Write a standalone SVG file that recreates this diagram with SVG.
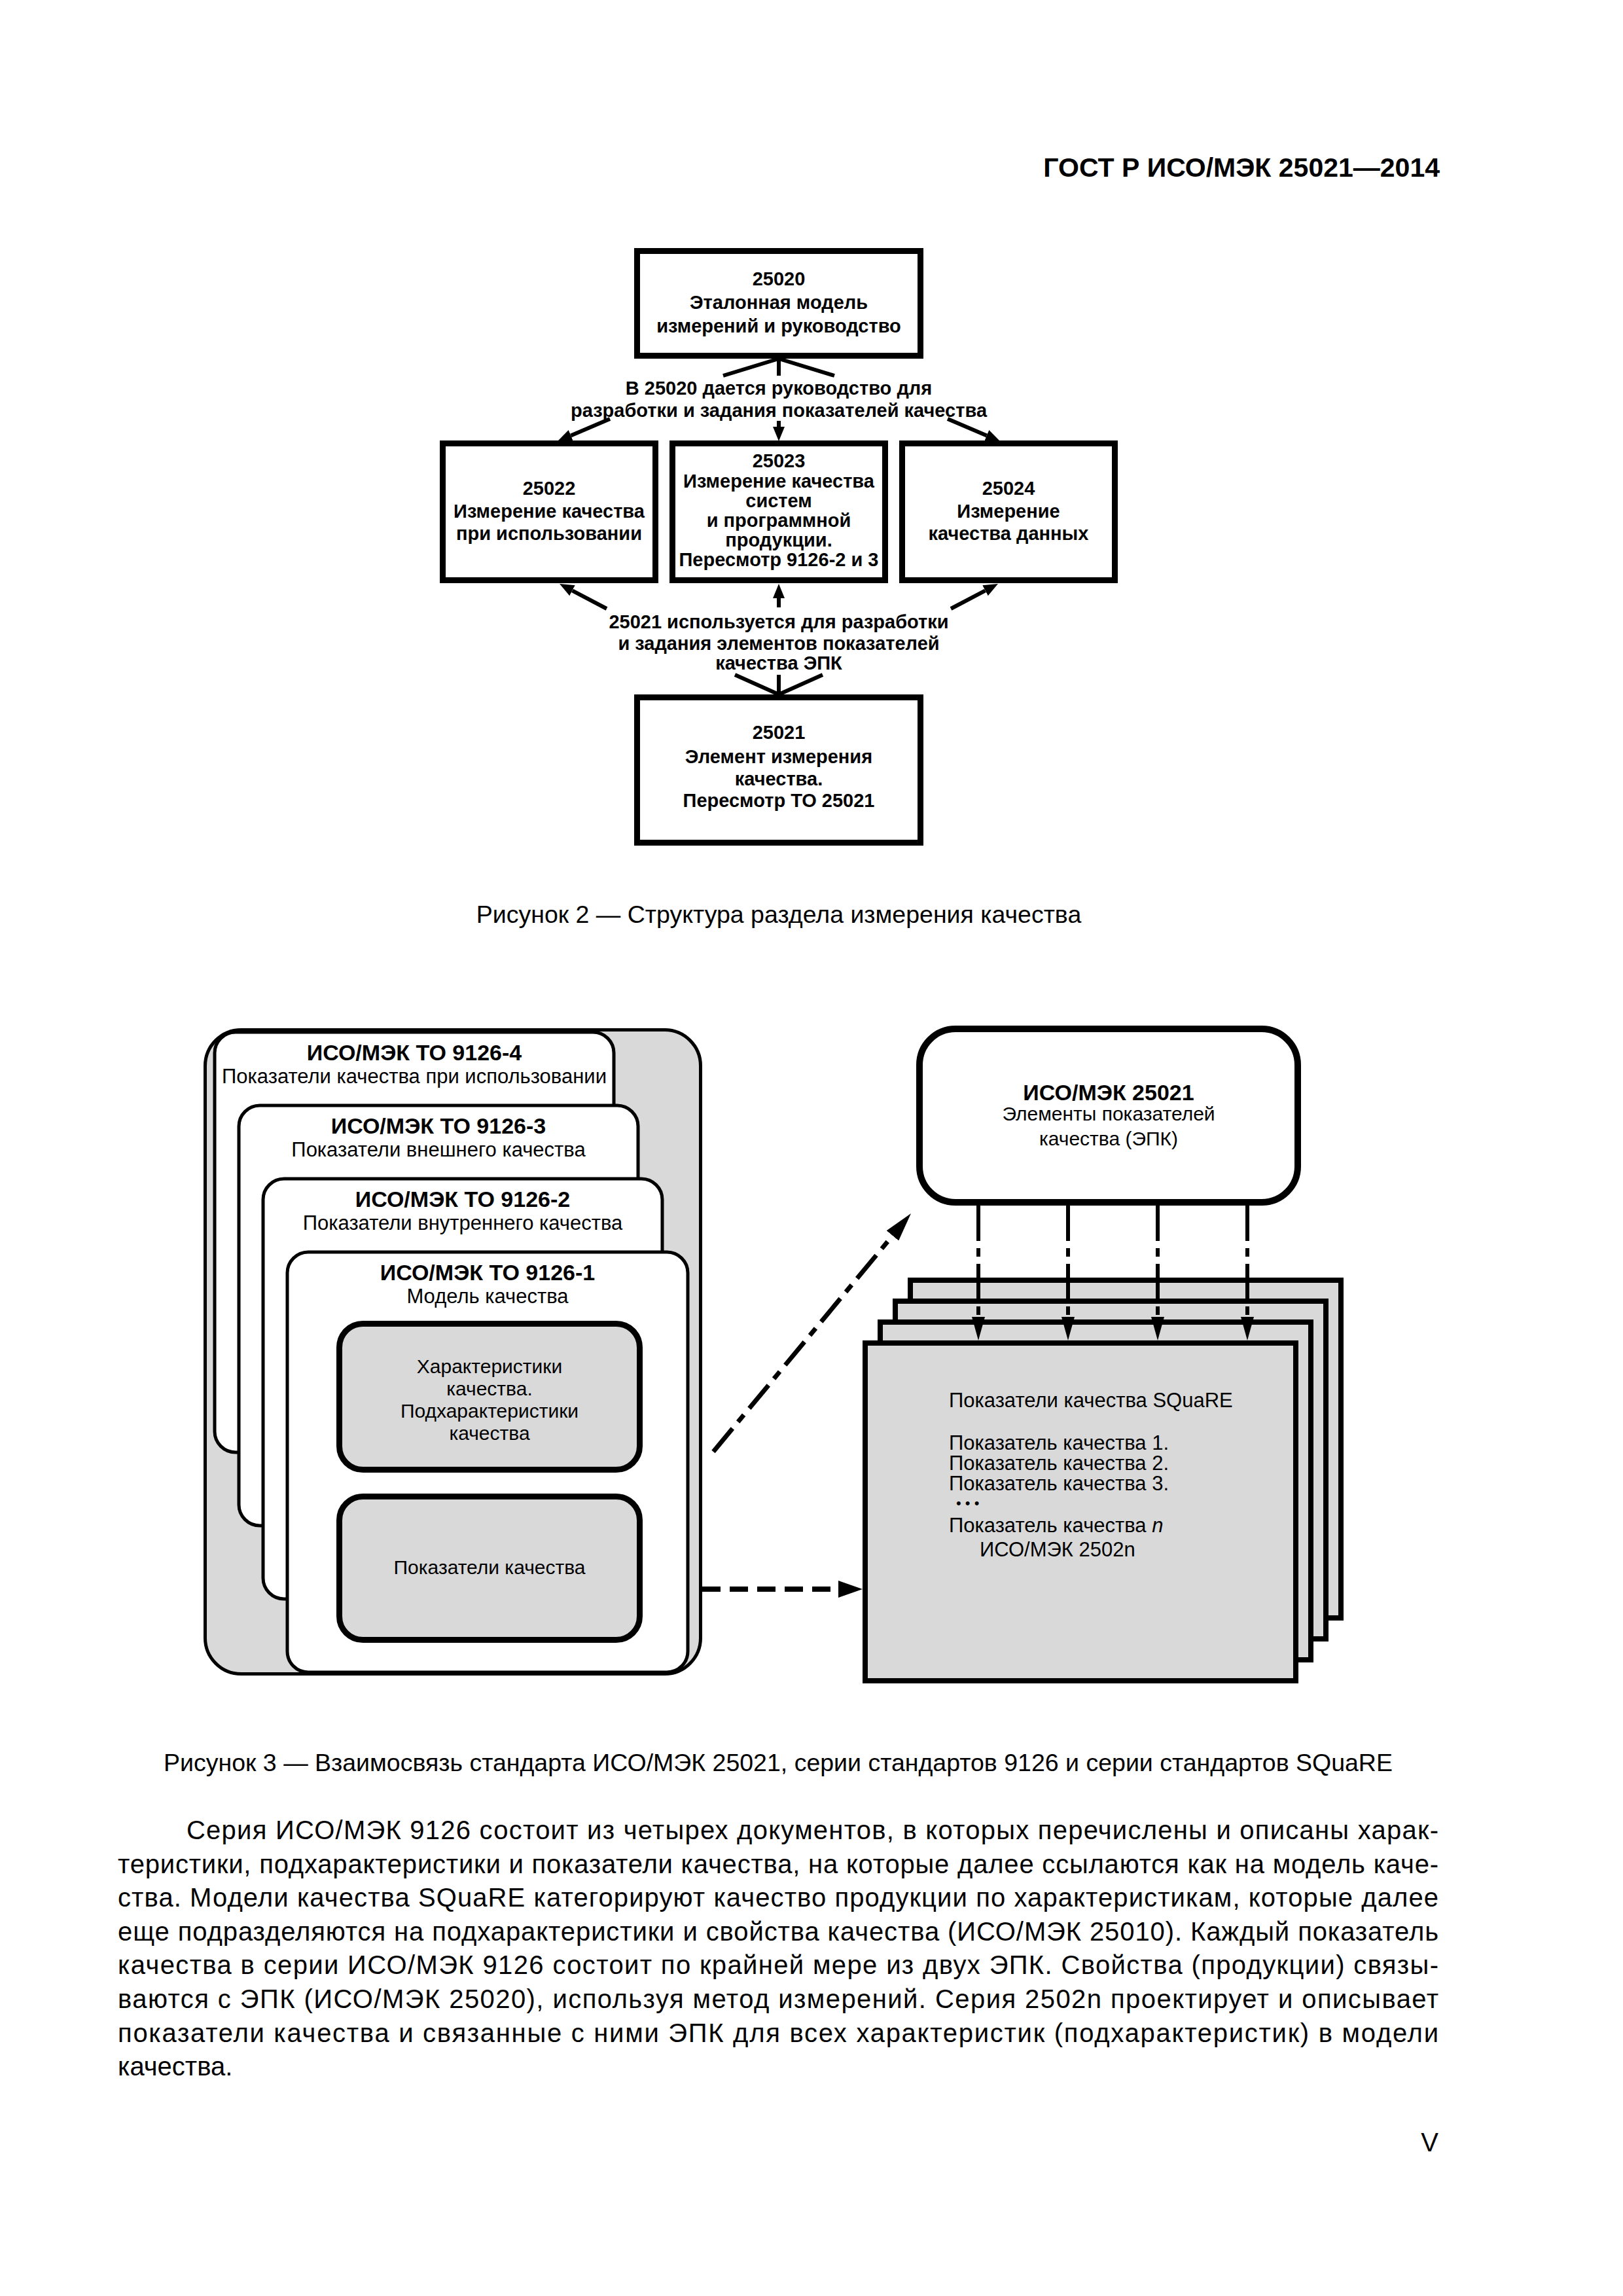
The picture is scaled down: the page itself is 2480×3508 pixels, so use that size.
<svg xmlns="http://www.w3.org/2000/svg" width="2480" height="3508" viewBox="0 0 2480 3508">
<defs>
<style>
text { font-family: "Liberation Sans", Arial, sans-serif; fill: #000; }
.hdr { font-size: 41px; font-weight: bold; text-anchor: end; }
.b29 { font-size: 29px; font-weight: bold; text-anchor: middle; }
.cap { font-size: 37.5px; text-anchor: middle; }
.body { font-size: 40px; }
.t34 { font-size: 34px; font-weight: bold; text-anchor: middle; }
.r31 { font-size: 31px; text-anchor: middle; }
.r30 { font-size: 30px; text-anchor: middle; }
.l31 { font-size: 31px; }
.box2 { fill: #fff; stroke: #000; stroke-width: 9; }
.conn2 { stroke: #000; stroke-width: 6; fill: none; }
.grayout { fill: #d9d9d9; stroke: #000; stroke-width: 5; }
.card { fill: #fff; stroke: #000; stroke-width: 5; }
.inner { fill: #d9d9d9; stroke: #000; stroke-width: 9; }
.epk { fill: #fff; stroke: #000; stroke-width: 10; }
.page { fill: #d9d9d9; stroke: #000; stroke-width: 8; }
.dashdot { stroke: #000; stroke-width: 6; fill: none; stroke-dasharray: 54 11 13 11; }
.diag { stroke: #000; stroke-width: 7; fill: none; stroke-dasharray: 46 13 14 13; }
.dash { stroke: #000; stroke-width: 8; fill: none; stroke-dasharray: 28 14; }
</style>
<marker id="ah2" markerUnits="userSpaceOnUse" markerWidth="22" markerHeight="18" viewBox="0 0 22 18" refX="0" refY="9" orient="auto"><path d="M0,0 L22,9 L0,18 z" fill="#000"/></marker>
<marker id="ahv" markerUnits="userSpaceOnUse" markerWidth="36" markerHeight="20" viewBox="0 0 36 20" refX="0" refY="10" orient="auto"><path d="M0,0 L36,10 L0,20 z" fill="#000"/></marker>
<marker id="ahd" markerUnits="userSpaceOnUse" markerWidth="44" markerHeight="24" viewBox="0 0 44 24" refX="0" refY="12" orient="auto"><path d="M0,0 L44,12 L0,24 z" fill="#000"/></marker>
<marker id="ahh" markerUnits="userSpaceOnUse" markerWidth="37" markerHeight="26" viewBox="0 0 37 26" refX="0" refY="13" orient="auto"><path d="M0,0 L37,13 L0,26 z" fill="#000"/></marker>
</defs>
<rect x="0" y="0" width="2480" height="3508" fill="#fff"/>

<text class="hdr" x="2200" y="270">ГОСТ Р ИСО/МЭК 25021—2014</text>

<!-- Figure 2 -->
<g id="n25020">
<rect class="box2" x="973.5" y="383.5" width="433" height="160"/>
<text class="b29" x="1190" y="436">25020</text>
<text class="b29" x="1190" y="472">Эталонная модель</text>
<text class="b29" x="1190" y="508">измерений и руководство</text>
</g>
<g id="lbl1">
<text class="b29" x="1190" y="603">В 25020 дается руководство для</text>
<text class="b29" x="1190" y="637">разработки и задания показателей качества</text>
</g>
<g id="n25022">
<rect class="box2" x="676.5" y="677.5" width="325" height="209"/>
<text class="b29" x="839" y="756">25022</text>
<text class="b29" x="839" y="791">Измерение качества</text>
<text class="b29" x="839" y="825">при использовании</text>
</g>
<g id="n25023">
<rect class="box2" x="1027.5" y="677.5" width="325" height="209"/>
<text class="b29" x="1190" y="714">25023</text>
<text class="b29" x="1190" y="745">Измерение качества</text>
<text class="b29" x="1190" y="775">систем</text>
<text class="b29" x="1190" y="805">и программной</text>
<text class="b29" x="1190" y="835">продукции.</text>
<text class="b29" x="1190" y="865">Пересмотр 9126-2 и 3</text>
</g>
<g id="n25024">
<rect class="box2" x="1378.5" y="677.5" width="325" height="209"/>
<text class="b29" x="1541" y="756">25024</text>
<text class="b29" x="1541" y="791">Измерение</text>
<text class="b29" x="1541" y="825">качества данных</text>
</g>
<g id="lbl2">
<text class="b29" x="1190" y="960">25021 используется для разработки</text>
<text class="b29" x="1190" y="993">и задания элементов показателей</text>
<text class="b29" x="1190" y="1023">качества ЭПК</text>
</g>
<g id="n25021">
<rect class="box2" x="973.5" y="1065.5" width="433" height="222"/>
<text class="b29" x="1190" y="1129">25021</text>
<text class="b29" x="1190" y="1166">Элемент измерения</text>
<text class="b29" x="1190" y="1200">качества.</text>
<text class="b29" x="1190" y="1233">Пересмотр ТО 25021</text>
</g>
<g id="connectors-fig2">
<path class="conn2" d="M1190,548 L1105,574 M1190,548 L1190,574 M1190,548 L1275,574"/>
<path class="conn2" d="M932,640 L872.3,665.4" marker-end="url(#ah2)"/>
<path class="conn2" d="M1190,643 L1190,652" marker-end="url(#ah2)"/>
<path class="conn2" d="M1448,640 L1507.7,665.4" marker-end="url(#ah2)"/>
<path class="conn2" d="M927,930 L874.5,902.3" marker-end="url(#ah2)"/>
<path class="conn2" d="M1190,928 L1190,914" marker-end="url(#ah2)"/>
<path class="conn2" d="M1453,930 L1505.5,902.3" marker-end="url(#ah2)"/>
<path class="conn2" d="M1123,1031 L1190,1061 M1190,1031 L1190,1061 M1257,1031 L1190,1061"/>
</g>
<text class="cap" x="1190" y="1410">Рисунок 2 — Структура раздела измерения качества</text>

<!-- Figure 3 -->
<g id="iso9126">
<rect class="grayout" x="313.5" y="1573.5" width="757" height="984" rx="55"/>
<g id="card4">
<rect class="card" x="328" y="1577" width="610" height="642" rx="32"/>
<text class="t34" x="633" y="1620">ИСО/МЭК ТО 9126-4</text>
<text class="r31" x="633" y="1655">Показатели качества при использовании</text>
</g>
<g id="card3">
<rect class="card" x="365" y="1689" width="610" height="642" rx="32"/>
<text class="t34" x="670" y="1732">ИСО/МЭК ТО 9126-3</text>
<text class="r31" x="670" y="1767">Показатели внешнего качества</text>
</g>
<g id="card2">
<rect class="card" x="402" y="1801" width="610" height="642" rx="32"/>
<text class="t34" x="707" y="1844">ИСО/МЭК ТО 9126-2</text>
<text class="r31" x="707" y="1879">Показатели внутреннего качества</text>
</g>
<g id="card1">
<rect class="card" x="439" y="1913" width="612" height="642" rx="32"/>
<text class="t34" x="745" y="1956">ИСО/МЭК ТО 9126-1</text>
<text class="r31" x="745" y="1991">Модель качества</text>
</g>
<g id="characteristics">
<rect class="inner" x="518.5" y="2022.5" width="459" height="223" rx="36"/>
<text class="r30" x="748" y="2098">Характеристики</text>
<text class="r30" x="748" y="2132">качества.</text>
<text class="r30" x="748" y="2166">Подхарактеристики</text>
<text class="r30" x="748" y="2200">качества</text>
</g>
<g id="metrics">
<rect class="inner" x="518.5" y="2286.5" width="459" height="219" rx="36"/>
<text class="r30" x="748" y="2405">Показатели качества</text>
</g>
</g>

<g id="iso25021">
<rect class="epk" x="1405" y="1572" width="578" height="265" rx="55"/>
<text class="t34" x="1694" y="1681">ИСО/МЭК 25021</text>
<text class="r30" x="1694" y="1712">Элементы показателей</text>
<text class="r30" x="1694" y="1750">качества (ЭПК)</text>
</g>

<g id="square-pages">
<rect class="page" x="1391" y="1956" width="658" height="516"/>
<rect class="page" x="1368" y="1988" width="658" height="516"/>
<rect class="page" x="1345" y="2020" width="658" height="516"/>
<rect class="page" x="1322" y="2052" width="658" height="516"/>
<text class="l31" x="1450" y="2150">Показатели качества SQuaRE</text>
<text class="l31" x="1450" y="2215">Показатель качества 1.</text>
<text class="l31" x="1450" y="2246">Показатель качества 2.</text>
<text class="l31" x="1450" y="2277">Показатель качества 3.</text>
<text x="1461" y="2304" style="font-size:22px">• • •</text>
<text class="l31" x="1450" y="2341">Показатель качества <tspan font-style="italic">n</tspan></text>
<text class="l31" x="1497" y="2378">ИСО/МЭК 2502n</text>
</g>

<g id="connectors-fig3">
<path class="dashdot" d="M1495,1842 L1495,2012" marker-end="url(#ahv)"/>
<path class="dashdot" d="M1632,1842 L1632,2012" marker-end="url(#ahv)"/>
<path class="dashdot" d="M1769,1842 L1769,2012" marker-end="url(#ahv)"/>
<path class="dashdot" d="M1906,1842 L1906,2012" marker-end="url(#ahv)"/>
<path class="diag" d="M1090,2218 L1363.9,1887.9" marker-end="url(#ahd)"/>
<path class="dash" d="M1073,2428 L1281,2428" marker-end="url(#ahh)"/>
</g>
<text class="cap" x="1189" y="2706">Рисунок 3 — Взаимосвязь стандарта ИСО/МЭК 25021, серии стандартов 9126 и серии стандартов SQuaRE</text>

<g id="body-text">
<text class="body" x="285" y="2810" textLength="1913" lengthAdjust="spacing">Серия ИСО/МЭК 9126 состоит из четырех документов, в которых перечислены и описаны харак-</text>
<text class="body" x="180" y="2862" textLength="2018" lengthAdjust="spacing">теристики, подхарактеристики и показатели качества, на которые далее ссылаются как на модель каче-</text>
<text class="body" x="180" y="2913" textLength="2018" lengthAdjust="spacing">ства. Модели качества SQuaRE категорируют качество продукции по характеристикам, которые далее</text>
<text class="body" x="180" y="2965" textLength="2018" lengthAdjust="spacing">еще подразделяются на подхарактеристики и свойства качества (ИСО/МЭК 25010). Каждый показатель</text>
<text class="body" x="180" y="3016" textLength="2018" lengthAdjust="spacing">качества в серии ИСО/МЭК 9126 состоит по крайней мере из двух ЭПК. Свойства (продукции) связы-</text>
<text class="body" x="180" y="3068" textLength="2018" lengthAdjust="spacing">ваются с ЭПК (ИСО/МЭК 25020), используя метод измерений. Серия 2502n проектирует и описывает</text>
<text class="body" x="180" y="3120" textLength="2018" lengthAdjust="spacing">показатели качества и связанные с ними ЭПК для всех характеристик (подхарактеристик) в модели</text>
<text class="body" x="180" y="3171">качества.</text>
</g>
<text class="body" x="2198" y="3287" text-anchor="end">V</text>
</svg>
